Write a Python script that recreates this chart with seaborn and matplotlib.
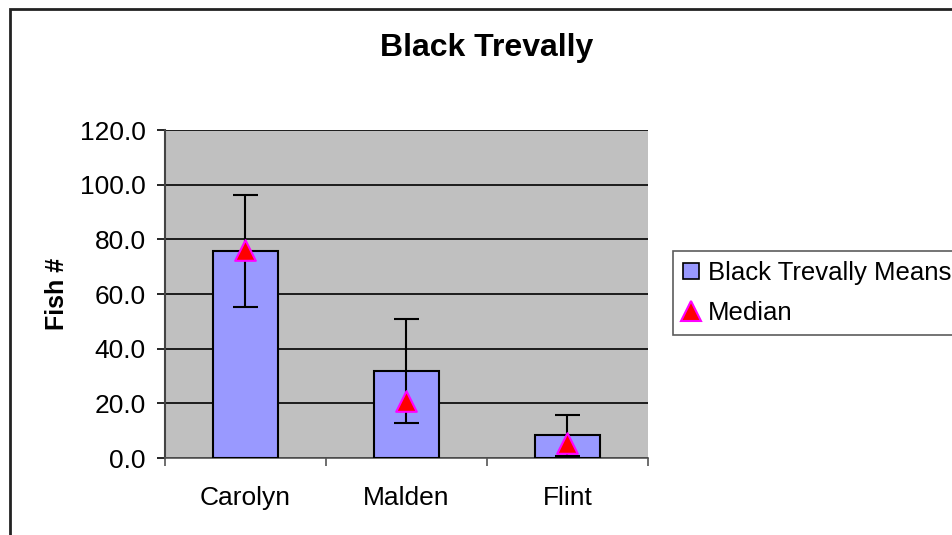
import matplotlib
matplotlib.use("Agg")
import matplotlib.pyplot as plt
import seaborn as sns
import numpy as np
from matplotlib.patches import Rectangle
from matplotlib.lines import Line2D
from matplotlib.ticker import FixedLocator

# Datos
sitios = ["Carolyn", "Malden", "Flint"]
medias = [75.7, 31.8, 8.4]
error_sup = [96.2, 50.9, 15.7]
error_inf = [55.2, 12.8, 0.7]
medianas = [76.0, 21.0, 5.5]
y_ticks = [0, 20, 40, 60, 80, 100, 120]

sns.set_style("white")
plt.rcParams['font.family'] = ['Liberation Sans', 'DejaVu Sans']
plt.rcParams['text.color'] = 'black'
plt.rcParams['xtick.color'] = 'black'
plt.rcParams['ytick.color'] = 'black'
plt.rcParams['axes.labelcolor'] = 'black'

fig = plt.figure(figsize=(9.53, 5.35), dpi=100)
ax = fig.add_axes([165 / 953, 1 - 458 / 535, 483 / 953, 328 / 535])
ax.set_facecolor("#C0C0C0")

sns.barplot(x=sitios, y=medias, color="#9999FF", edgecolor="black",
            linewidth=1.5, width=0.4, saturation=1, ax=ax, zorder=3)

x = np.arange(len(sitios))
medias_arr = np.array(medias)
yerr = [medias_arr - np.array(error_inf), np.array(error_sup) - medias_arr]
ax.errorbar(x, medias, yerr=yerr, fmt="none", ecolor="black", elinewidth=1.5,
            capsize=9, capthick=1.5, zorder=4)
ax.scatter(x, medianas, marker="^", s=220, color="red", edgecolor="magenta",
           linewidth=1.5, zorder=5)

ax.set_ylim(0, 120)
ax.set_xlim(-0.5, 2.5)
ax.set_yticks(y_ticks)
ax.set_yticklabels([f"{v:.1f}" for v in y_ticks], fontsize=19)
ax.yaxis.grid(True, color="black", linewidth=1.2)
ax.set_axisbelow(True)
ax.tick_params(axis="y", direction="out", length=6, width=1.2, color="black", left=True, pad=8)
ax.tick_params(axis="x", which="major", length=0, labelsize=19, pad=20)
ax.xaxis.set_minor_locator(FixedLocator([-0.5, 0.5, 1.5, 2.5]))
ax.tick_params(axis="x", which="minor", direction="out", length=6, width=1.2, color="#555555", bottom=True)

for lado in ["top", "right"]:
    ax.spines[lado].set_visible(False)
ax.spines["left"].set_color("#444444")
ax.spines["left"].set_linewidth(1.5)
ax.spines["bottom"].set_color("#555555")
ax.spines["bottom"].set_linewidth(1.2)

ax.set_ylabel("Fish #", fontsize=18, fontweight="bold", labelpad=8)
ax.set_xlabel("")

fig.text(487 / 953, 1 - 48 / 535, "Black Trevally", ha="center", va="center",
         fontsize=23, fontweight="bold")

handles = [
    Line2D([0], [0], marker="s", linestyle="none", markersize=11,
           markerfacecolor="#9999FF", markeredgecolor="black", markeredgewidth=1.2),
    Line2D([0], [0], marker="^", linestyle="none", markersize=14,
           markerfacecolor="red", markeredgecolor="magenta", markeredgewidth=1.5),
]
leg = fig.legend(handles, ["Black Trevally Means", "Median"],
                 loc="upper left", bbox_to_anchor=(673 / 953, 1 - 251 / 535),
                 fontsize=18.5, frameon=True, fancybox=False, handlelength=0.6,
                 handletextpad=0.35, borderpad=0.4, labelspacing=0.6, borderaxespad=0)
leg.get_frame().set_edgecolor("#333333")
leg.get_frame().set_linewidth(1.2)

# marco exterior
fig.patches.append(Rectangle((10 / 953, -0.1), 1.2, 1 - 9 / 535 + 0.1,
                             transform=fig.transFigure, fill=False,
                             edgecolor="#222222", linewidth=2, zorder=0))

fig.savefig("out.png", dpi=100)
